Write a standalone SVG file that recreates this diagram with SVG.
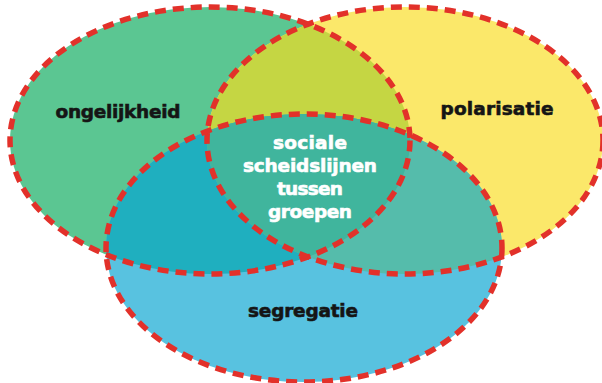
<svg xmlns="http://www.w3.org/2000/svg" width="602" height="383" viewBox="0 0 602 383">
  <style>
    .outline { fill: none; stroke: #e2312a; stroke-width: 5.5; stroke-dasharray: 11 7; }
    .lbl { font-family: "DejaVu Sans", "Open Sans", "Liberation Sans", sans-serif; font-weight: 700; font-size: 18.5px; text-anchor: middle; fill: #151515; stroke: #151515; stroke-width: 0.6; }
    .ctr { fill: #ffffff; stroke: #ffffff; }
  </style>
  <defs>
    <ellipse id="eG" cx="210" cy="140.5" rx="200" ry="133.5"/>
    <ellipse id="eY" cx="405" cy="140.5" rx="198" ry="133.5"/>
    <ellipse id="eB" cx="304" cy="248" rx="198" ry="134"/>
    <clipPath id="cG"><use href="#eG"/></clipPath>
    <clipPath id="cY"><use href="#eY"/></clipPath>
  </defs>
  <rect width="602" height="383" fill="#ffffff"/>
  <g id="fills">
    <use href="#eG" fill="#5bc692"/>
    <use href="#eY" fill="#fbe86a"/>
    <use href="#eB" fill="#58c2e0"/>
    <use href="#eY" fill="#c5d643" clip-path="url(#cG)"/>
    <use href="#eB" fill="#1fafbf" clip-path="url(#cG)"/>
    <use href="#eB" fill="#55bcab" clip-path="url(#cY)"/>
    <g clip-path="url(#cY)"><use href="#eB" fill="#40b59d" clip-path="url(#cG)"/></g>
  </g>
  <g id="ongelijkheid">
    <use href="#eG" class="outline"/>
    <text class="lbl" x="118" y="118" textLength="125">ongelijkheid</text>
  </g>
  <g id="polarisatie">
    <use href="#eY" class="outline"/>
    <text class="lbl" x="497" y="115" textLength="113">polarisatie</text>
  </g>
  <g id="segregatie">
    <use href="#eB" class="outline"/>
    <text class="lbl" x="303" y="317" textLength="110">segregatie</text>
  </g>
  <g id="sociale">
    <text class="lbl ctr" x="310" y="149" textLength="74">sociale</text>
    <text class="lbl ctr" x="310" y="172" textLength="134">scheidslijnen</text>
    <text class="lbl ctr" x="310" y="195" textLength="66">tussen</text>
    <text class="lbl ctr" x="310" y="218" textLength="84">groepen</text>
  </g>
</svg>
